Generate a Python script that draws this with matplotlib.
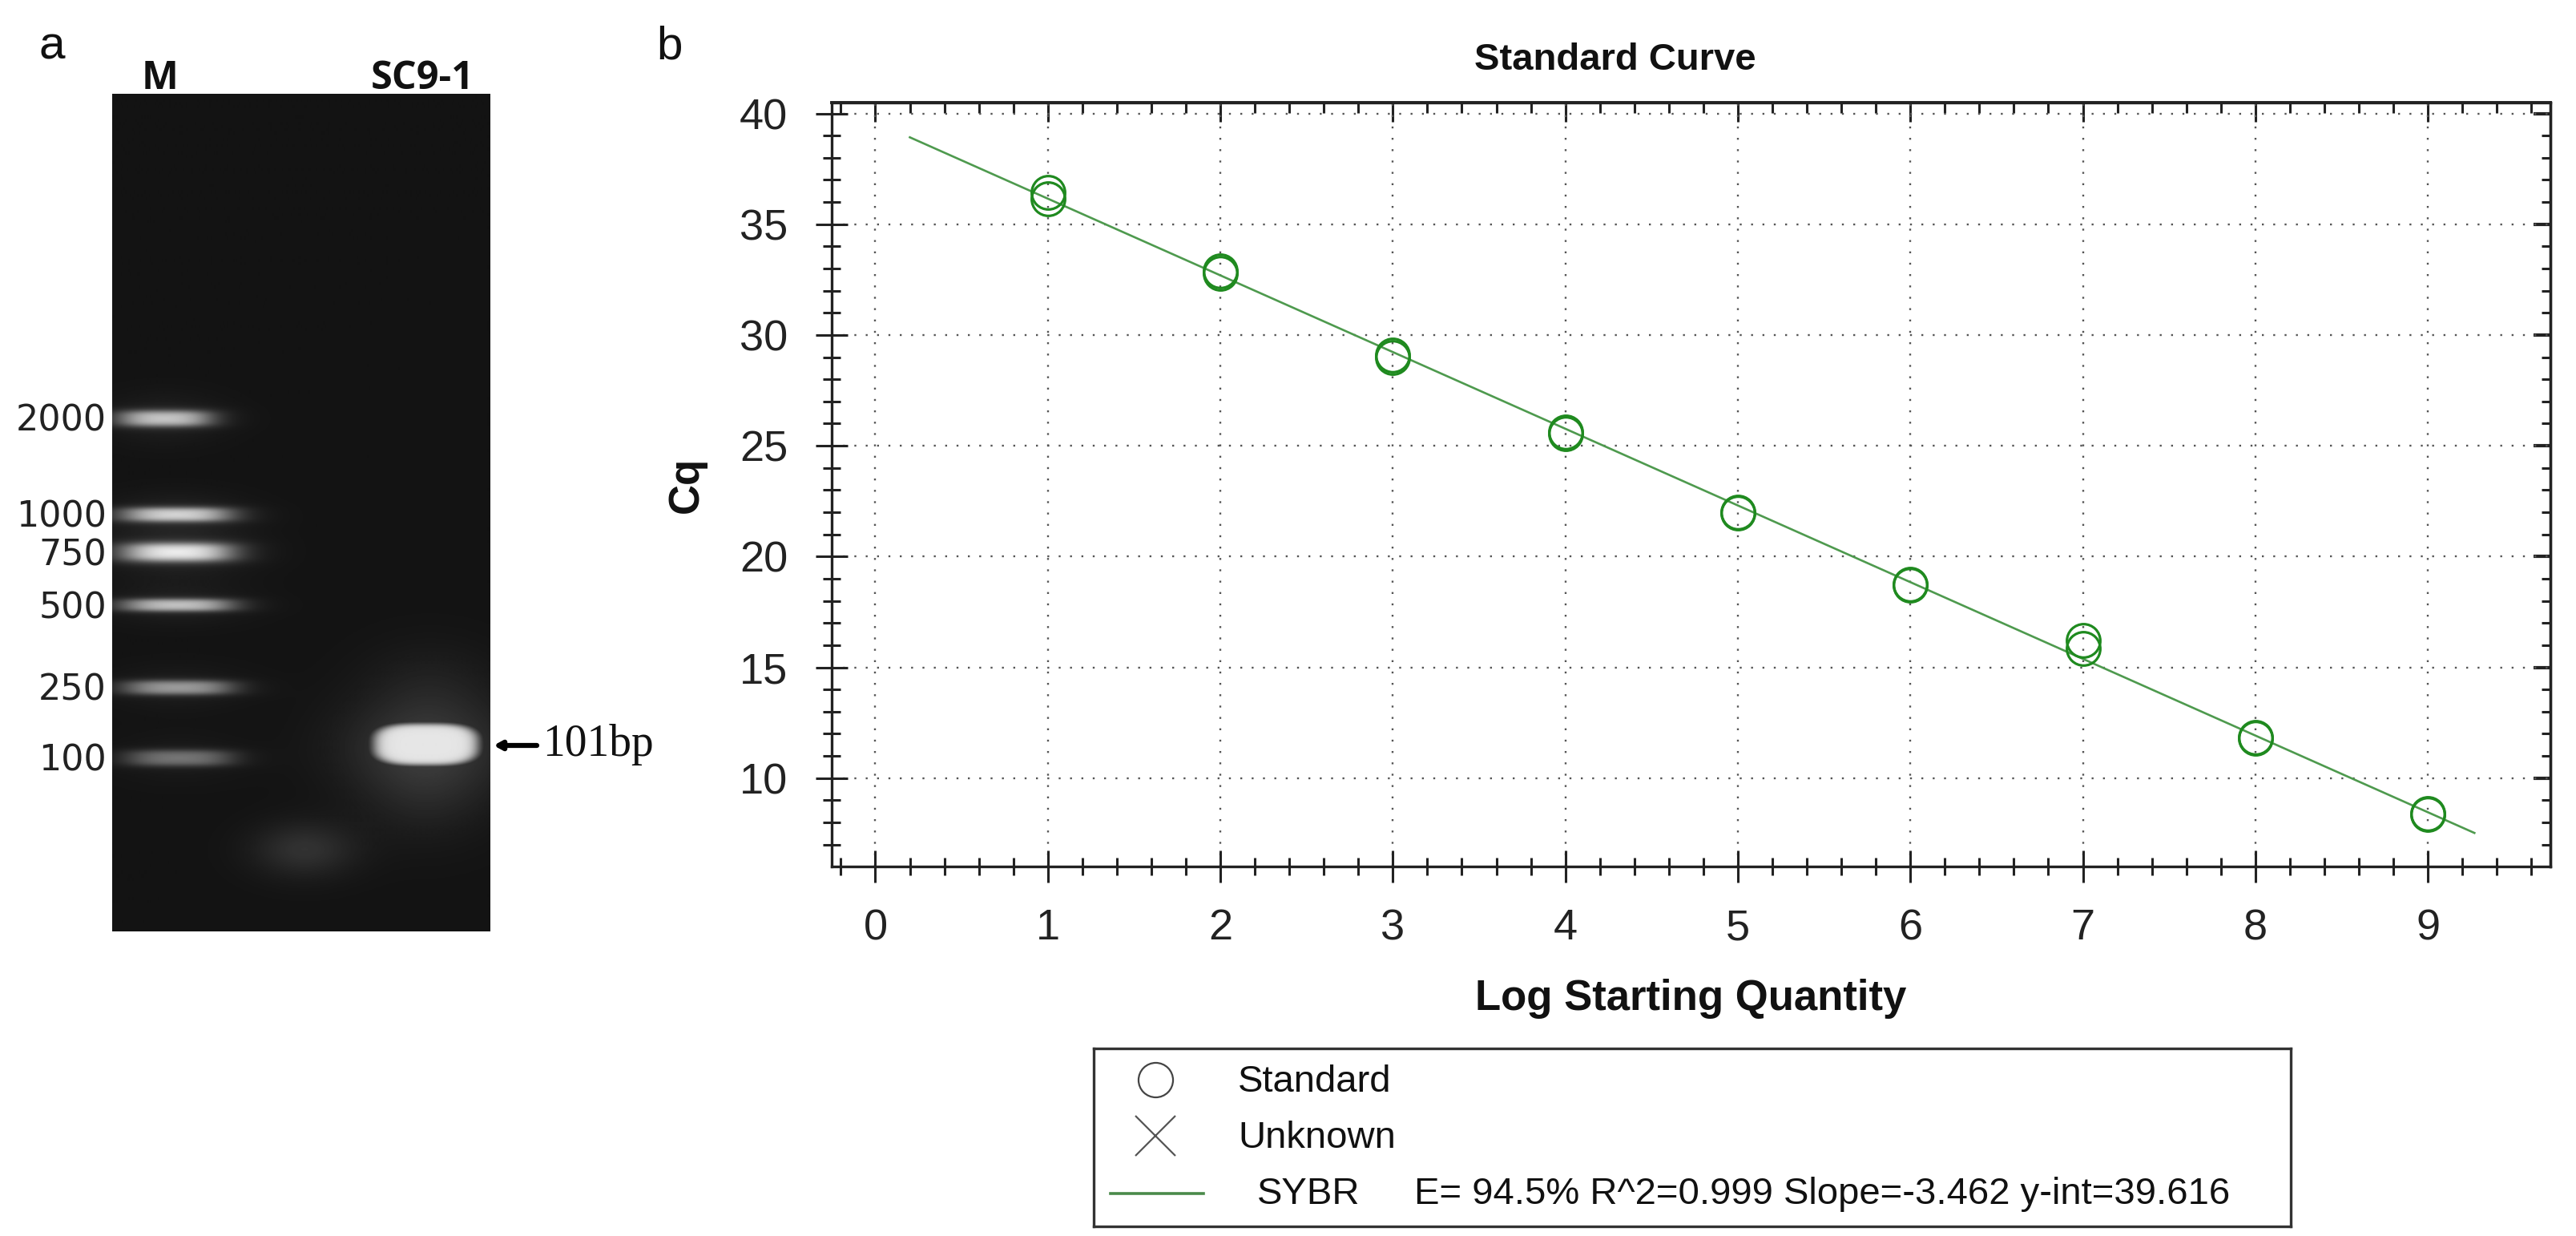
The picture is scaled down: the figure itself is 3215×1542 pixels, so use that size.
import numpy as np
import matplotlib
matplotlib.use("Agg")
import matplotlib.pyplot as plt
from matplotlib.ticker import MultipleLocator, FixedLocator, NullFormatter

# ---------------- data ----------------
# panel a: agarose gel
ladder_sizes = [2000, 1000, 750, 500, 250, 100]
ladder_band_y = [522, 642, 689, 755, 858, 946]          # migration (gel pixel rows)
ladder_band_x0 = [154, 160, 160, 160, 162, 165]
ladder_band_x1 = [257, 280, 282, 282, 282, 282]
ladder_band_thick = [18, 16, 21, 14, 16, 18]
ladder_band_int = [0.66, 0.70, 0.80, 0.64, 0.50, 0.36]
lane_labels = ["M", "SC9-1"]
sample_band_y = 929
sample_band_x = [467, 597]
sample_label = "101bp"

# panel b: standard curve
log_qty = [1, 1, 2, 2, 3, 3, 4, 4, 5, 5, 6, 6, 7, 7, 8, 8, 9, 9]
cq = [36.45, 36.15, 32.90, 32.80, 29.10, 29.00, 25.62, 25.55, 22.00, 21.95,
      18.75, 18.70, 16.20, 15.85, 11.85, 11.80, 8.40, 8.35]
fit_slope = -3.462
fit_intercept = 39.616
fit_x_range = [0.2, 9.27]
x_ticks = [0, 1, 2, 3, 4, 5, 6, 7, 8, 9]
y_ticks = [10, 15, 20, 25, 30, 35, 40]
legend_labels = ["Standard", "Unknown", "SYBR"]
fit_text = "E= 94.5% R^2=0.999 Slope=-3.462 y-int=39.616"

# ---------------- figure ----------------
W, H = 3215, 1542
plt.rcParams['font.family'] = ['Liberation Sans', 'DejaVu Sans']
fig = plt.figure(figsize=(W / 100, H / 100), dpi=100)
fig.patch.set_facecolor('white')


def fx(px):
    return px / W


def fy(py):
    return 1 - py / H


# ---------------- panel a: gel ----------------
gx0, gx1, gy0, gy1 = 140, 612, 117, 1162
gax = fig.add_axes([fx(gx0), fy(gy1), fx(gx1) - fx(gx0), fy(gy0) - fy(gy1)])
gax.set_xlim(gx0, gx1)
gax.set_ylim(gy1, gy0)
gax.axis('off')

xs = np.arange(gx0, gx1 + 0.5, 1.0)
ys = np.arange(gy0, gy1 + 0.5, 1.0)
X, Y = np.meshgrid(xs, ys)
img = np.full_like(X, 0.075)


def band(cx, cy, hw, hh, inten, soft=0.15, p=4):
    r = (np.abs((X - cx) / hw) ** p + np.abs((Y - cy) / hh) ** p) ** (1.0 / p)
    return inten / (1 + np.exp((r - 1) / soft))


def glow(cx, cy, sx, sy, inten):
    return inten * np.exp(-0.5 * (((X - cx) / sx) ** 2 + ((Y - cy) / sy) ** 2))


for y, x0, x1, th, it in zip(ladder_band_y, ladder_band_x0, ladder_band_x1,
                             ladder_band_thick, ladder_band_int):
    cx = (x0 + x1) / 2
    img += band(cx, y, (x1 - x0) / 2, th / 2, it, soft=0.25, p=3)
    img += glow(cx, y, (x1 - x0) / 2, th * 1.2, it * 0.08)

scx = (sample_band_x[0] + sample_band_x[1]) / 2
shw = (sample_band_x[1] - sample_band_x[0]) / 2
img += glow(scx, sample_band_y + 55, 60, 45, 0.07)
img += glow(scx + 5, sample_band_y - 70, 60, 40, 0.05)
img += glow(380, 1060, 45, 24, 0.12)
img += glow(scx, sample_band_y, shw * 1.15, 40, 0.12)
img = np.maximum(img, band(scx, sample_band_y, shw, 26, 0.90, soft=0.08, p=3))
img = np.clip(img, 0, 1)

gax.imshow(img, cmap='gray', vmin=0, vmax=1, extent=(gx0, gx1, gy1, gy0),
           interpolation='bilinear', aspect='auto')

for s, y in zip(ladder_sizes, ladder_band_y):
    gax.text(133, y + 16, str(s), ha='right', va='baseline', fontsize=32,
             family='DejaVu Sans', color='#222222', clip_on=False)

gax.text(200, 111, lane_labels[0], ha='center', va='baseline', fontsize=35,
         family='Open Sans', fontweight='bold', color='#111111', clip_on=False)
gax.text(527, 111, lane_labels[1], ha='center', va='baseline', fontsize=35,
         family='Open Sans', fontweight='bold', color='#111111', clip_on=False)
gax.text(65, 73, 'a', ha='center', va='baseline', fontsize=42, color='#111111',
         clip_on=False)

gax.annotate('', xy=(616, sample_band_y + 1), xytext=(670, sample_band_y + 1),
             arrowprops=dict(arrowstyle='-|>,head_length=0.55,head_width=0.3',
                             lw=4.5, color='black', shrinkA=0, shrinkB=0),
             annotation_clip=False)
gax.text(677, sample_band_y, sample_label, ha='left', va='center', fontsize=40,
         family='Liberation Serif', color='#111111', clip_on=False)

# ---------------- panel b: standard curve ----------------
fig.text(fx(836), fy(74), 'b', ha='center', va='baseline', fontsize=42,
         color='#111111')

ax = fig.add_axes([fx(1038), fy(1081), fx(3183) - fx(1038), fy(128) - fy(1081)])
ax.set_xlim(-0.253, 9.71)
ax.set_ylim(6.01, 40.49)
ax.xaxis.set_major_locator(FixedLocator(x_ticks))
ax.xaxis.set_minor_locator(MultipleLocator(0.2))
ax.yaxis.set_major_locator(FixedLocator(y_ticks))
ax.yaxis.set_minor_locator(MultipleLocator(1))
ax.grid(which='major', color='#555555', linestyle=(0, (1, 5)), linewidth=1.7)
ax.set_axisbelow(True)
ax.tick_params(axis='both', which='major', direction='inout', length=29,
               width=2.2, labelsize=39, colors='#222222')
ax.tick_params(axis='x', which='major', pad=23)
ax.tick_params(axis='y', which='major', pad=25)
ax.tick_params(axis='both', which='minor', direction='inout', length=16,
               width=2.2, colors='#222222')
for sp in ax.spines.values():
    sp.set_linewidth(2.4)
    sp.set_color('#222222')

sx = ax.secondary_xaxis('top')
sx.xaxis.set_major_locator(FixedLocator(x_ticks))
sx.xaxis.set_minor_locator(MultipleLocator(0.2))
sx.xaxis.set_major_formatter(NullFormatter())
sx.tick_params(which='major', direction='in', length=17, width=2.2, colors='#222222')
sx.tick_params(which='minor', direction='in', length=9, width=2.2, colors='#222222')
sx.spines['top'].set_linewidth(2.8)
sx.spines['top'].set_color('#222222')

sy = ax.secondary_yaxis('right')
sy.yaxis.set_major_locator(FixedLocator(y_ticks))
sy.yaxis.set_minor_locator(MultipleLocator(1))
sy.yaxis.set_major_formatter(NullFormatter())
sy.tick_params(which='major', direction='in', length=15, width=3.0, colors='#222222')
sy.tick_params(which='minor', direction='in', length=8, width=2.2, colors='#222222')
sy.spines['right'].set_linewidth(2.4)
sy.spines['right'].set_color('#222222')

xfit = np.array(fit_x_range)
ax.plot(xfit, fit_intercept + fit_slope * xfit, color='#4e9a4e', lw=1.9, zorder=3)
ax.plot(log_qty, cq, linestyle='none', marker='o', ms=30, mfc='none',
        mec='#1f8a1f', mew=2.3, zorder=4)

fig.text(fx(2016), fy(87), 'Standard Curve', ha='center', va='baseline',
         fontsize=34, fontweight='bold', color='#111111')
fig.text(fx(2110), fy(1260), 'Log Starting Quantity', ha='center', va='baseline',
         fontsize=38, fontweight='bold', color='#111111')
fig.text(fx(857), fy(605), 'Cq', ha='center', va='center', rotation=90,
         fontsize=38, fontweight='bold', color='#111111')

# ---------------- legend box ----------------
lx0, lx1, ly0, ly1 = 1365, 2859, 1308, 1530
lax = fig.add_axes([fx(lx0), fy(ly1), fx(lx1) - fx(lx0), fy(ly0) - fy(ly1)])
lax.set_xlim(lx0, lx1)
lax.set_ylim(ly1, ly0)
lax.set_xticks([])
lax.set_yticks([])
for sp in lax.spines.values():
    sp.set_linewidth(2.4)
    sp.set_color('#333333')

lax.plot([1442], [1347], linestyle='none', marker='o', ms=31, mfc='none',
         mec='#444444', mew=1.6, clip_on=False)
lax.plot([1442], [1417], linestyle='none', marker='x', ms=36, mec='#555555',
         mew=1.6, clip_on=False)
lax.plot([1386, 1502], [1489, 1489], color='#4a8a4a', lw=2.6)
lax.text(1545, 1362, legend_labels[0], ha='left', va='baseline', fontsize=34,
         color='#111111')
lax.text(1545, 1432, legend_labels[1], ha='left', va='baseline', fontsize=34,
         color='#111111')
lax.text(1569, 1502, legend_labels[2], ha='left', va='baseline', fontsize=34,
         color='#111111')
lax.text(1765, 1502, fit_text, ha='left', va='baseline', fontsize=34,
         color='#111111')

fig.savefig('out.png', dpi=100, facecolor='white')
